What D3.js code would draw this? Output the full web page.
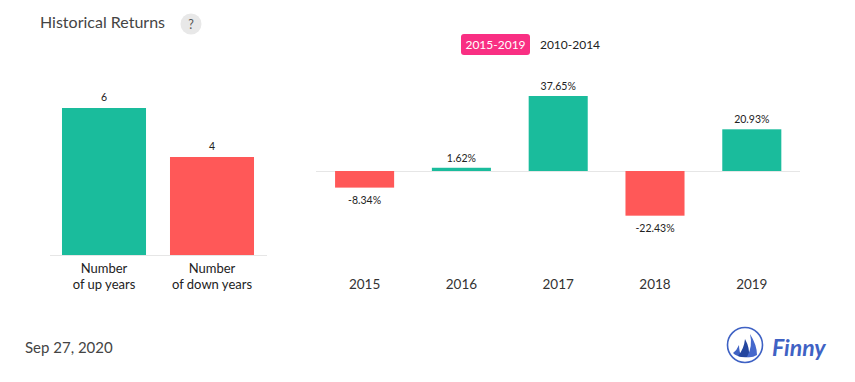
<!DOCTYPE html>
<html>
<head>
<meta charset="utf-8">
<script src="https://cdn.jsdelivr.net/npm/d3@7"></script>
<style>
  html, body { margin: 0; padding: 0; background: #fff; }
  text { font-family: Lato, sans-serif; }
</style>
</head>
<body>
<div id="chart"></div>
<script>
// left panel
var countLabels = [["Number", "of up years"], ["Number", "of down years"]];
var countKeys = ["up", "down"];
var countValues = [6, 4];

// right panel
var years = ["2015", "2016", "2017", "2018", "2019"];
var returns = [-8.34, 1.62, 37.65, -22.43, 20.93];

var periods = ["2015-2019", "2010-2014"];

var green = "#1abc9c", red = "#ff5858", pink = "#f92f83";

var svg = d3.select("#chart").append("svg")
  .attr("width", 855)
  .attr("height", 382)
  .style("display", "block");

// header
svg.append("text").attr("x", 40).attr("y", 28)
  .attr("font-size", 16).attr("fill", "#444")
  .text("Historical Returns");
svg.append("circle").attr("cx", 191).attr("cy", 24).attr("r", 10.5).attr("fill", "#e8e8e8");
svg.append("text").attr("x", 191).attr("y", 28.5)
  .attr("text-anchor", "middle").attr("font-size", 12.5).attr("fill", "#555")
  .text("?");

// period switch
svg.append("rect").attr("x", 461).attr("y", 34).attr("width", 69).attr("height", 21)
  .attr("rx", 3).attr("fill", pink);
svg.append("text").attr("x", 495.5).attr("y", 49)
  .attr("text-anchor", "middle").attr("font-size", 12).attr("fill", "#fff")
  .text(periods[0]);
svg.append("text").attr("x", 570).attr("y", 49)
  .attr("text-anchor", "middle").attr("font-size", 12).attr("fill", "#222")
  .text(periods[1]);

// up / down years
var xCount = d3.scaleBand().domain(countKeys).range([50, 266]).paddingInner(0.222).paddingOuter(0.111);
var yCount = d3.scaleLinear().domain([0, 6]).range([255, 108]);

var left = svg.append("g");
left.selectAll("rect").data(countKeys).enter().append("rect")
  .attr("x", function(d) { return xCount(d); })
  .attr("y", function(d, i) { return yCount(countValues[i]); })
  .attr("width", xCount.bandwidth())
  .attr("height", function(d, i) { return yCount(0) - yCount(countValues[i]); })
  .attr("fill", function(d, i) { return i == 0 ? green : red; });

left.selectAll(".val").data(countKeys).enter().append("text")
  .attr("class", "val")
  .attr("x", function(d) { return xCount(d) + xCount.bandwidth() / 2; })
  .attr("y", function(d, i) { return yCount(countValues[i]) - 7; })
  .attr("text-anchor", "middle").attr("font-size", 10.5).attr("fill", "#222")
  .text(function(d, i) { return countValues[i]; });

left.append("line")
  .attr("x1", 50).attr("x2", 267)
  .attr("y1", yCount(0) + 0.5).attr("y2", yCount(0) + 0.5)
  .attr("stroke", "#e6e6e6").attr("stroke-width", 1.2);

countKeys.forEach(function(k, i) {
  countLabels[i].forEach(function(line, j) {
    left.append("text")
      .attr("x", xCount(k) + xCount.bandwidth() / 2)
      .attr("y", 273 + j * 16)
      .attr("text-anchor", "middle").attr("font-size", 13).attr("fill", "#222")
      .text(line);
  });
});

// yearly returns
var xYear = d3.scaleBand().domain(years).range([316.2, 800.2]).paddingInner(0.39).paddingOuter(0.195);
var yRet = d3.scaleLinear().domain([0, 37.65]).range([171, 96]);

var right = svg.append("g");
right.append("line")
  .attr("x1", 316).attr("x2", 800)
  .attr("y1", yRet(0) + 0.5).attr("y2", yRet(0) + 0.5)
  .attr("stroke", "#e6e6e6").attr("stroke-width", 1.2);

right.selectAll("rect").data(returns).enter().append("rect")
  .attr("x", function(d, i) { return xYear(years[i]); })
  .attr("y", function(d) { return d > 0 ? yRet(d) : yRet(0); })
  .attr("width", xYear.bandwidth())
  .attr("height", function(d) { return Math.abs(yRet(d) - yRet(0)); })
  .attr("fill", function(d) { return d > 0 ? green : red; });

right.selectAll(".val").data(returns).enter().append("text")
  .attr("class", "val")
  .attr("x", function(d, i) { return xYear(years[i]) + xYear.bandwidth() / 2; })
  .attr("y", function(d) { return d > 0 ? yRet(d) - 6 : yRet(d) + 16; })
  .attr("text-anchor", "middle").attr("font-size", 10.5).attr("fill", "#222")
  .text(function(d) { return d.toFixed(2) + "%"; });

right.selectAll(".yr").data(years).enter().append("text")
  .attr("class", "yr")
  .attr("x", function(d) { return xYear(d) + xYear.bandwidth() / 2; })
  .attr("y", 289)
  .attr("text-anchor", "middle").attr("font-size", 13.5).attr("fill", "#333")
  .text(function(d) { return d; });

// footer
svg.append("text").attr("x", 25).attr("y", 353)
  .attr("font-size", 15).attr("fill", "#444")
  .text("Sep 27, 2020");

// logo
var logo = svg.append("g").attr("transform", "translate(745,345)");
logo.append("circle").attr("r", 17.5).attr("fill", "none").attr("stroke", "#3f62c4").attr("stroke-width", 1.6);
logo.append("path").attr("d", "M-12,8 Q-8,5 -6,0 Q-6,7 -3,12 Q-9,11 -12,8Z").attr("fill", "#3f62c4");
logo.append("path").attr("d", "M-7,11 Q-1,4 0,-6 Q5,3 4,12 Q-2,13 -7,11Z").attr("fill", "#24469f");
logo.append("path").attr("d", "M2,12 Q8,1 5,-11 Q12,0 12,10 Q7,13 2,12Z").attr("fill", "#4568cc");
svg.append("text").attr("x", 772).attr("y", 356)
  .attr("font-size", 23).attr("font-weight", 700).attr("font-style", "italic")
  .attr("fill", "#3f62c4")
  .text("Finny");
</script>
</body>
</html>
